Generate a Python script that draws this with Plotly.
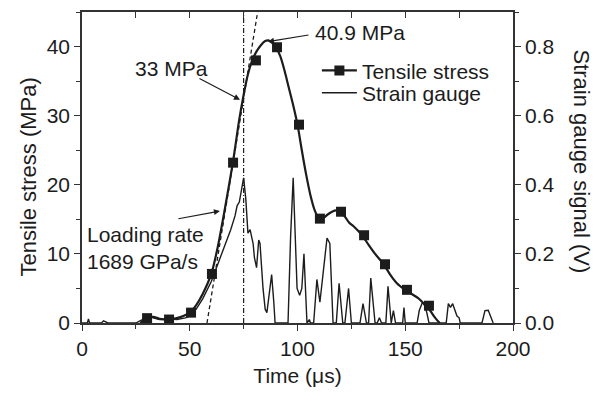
import plotly.graph_objects as go

# ---- Data ----
# Tensile stress, smooth curve (time in us, stress in MPa)
stress_t = [27, 30, 33, 36, 40, 44, 47, 50, 53, 56, 60, 63, 66, 70, 73, 75, 77, 79, 81, 83, 85,
            86.5, 88, 90, 92, 94, 96, 98, 100, 102, 104, 106, 108, 110, 112, 114, 116, 118, 120,
            122, 124, 126, 128, 130, 133, 136, 140, 143, 146, 150, 153, 156, 158, 160, 162, 164, 166]
stress_v = [0, 0.7, 0.9, 0.6, 0.5, 0.7, 1.0, 1.5, 2.6, 4.2, 7.1, 11, 16, 23.2, 29.5, 33, 36, 38, 39.3,
            40.2, 40.8, 40.9, 40.6, 39.9, 38.6, 36.5, 34, 31.5, 28.7, 25, 21.5, 18.5, 16.3, 15.1, 15.2,
            15.7, 16.1, 16.3, 16.1, 15.4, 14.5, 14.0, 13.4, 12.7, 11.3, 10.0, 8.5, 7.0, 5.8, 4.8, 4.2,
            3.6, 3.0, 2.5, 1.6, 0.7, 0]
# Tensile stress symbols
marker_t = [30.2, 40.4, 50.6, 60.3, 70.1, 80.7, 90.5, 100.7, 110.4, 120.2, 130.9, 140.6, 150.8, 161]
marker_v = [0.7, 0.5, 1.5, 7.1, 23.2, 38.0, 39.9, 28.7, 15.1, 16.1, 12.7, 8.5, 4.8, 2.5]

# Strain gauge signal (time in us, signal in V)
gauge_t = [0, 2.5, 3, 3.5, 9, 10, 11, 12, 25, 28, 30, 33, 36, 40, 44, 48, 50, 53, 56, 60, 63, 66, 69,
           71, 72, 73, 74, 75, 76, 77, 78, 79.4, 80, 81, 82, 82.6, 84, 85, 85.8, 88, 89, 89.6, 95.6,
           96.8, 98, 99, 99.8, 101, 102, 103, 104.4, 105.5, 106, 107.5, 109, 110.4, 112, 113.7, 115,
           116.5, 118, 119.3, 121, 122, 123.7, 125, 129, 130.4, 132, 133, 134, 136, 137, 138, 139,
           141, 142, 143.5, 144.5, 145.5, 148.8, 149.4, 150, 155.5, 156.5, 158, 159, 160, 161, 169,
           170, 171, 172, 173, 174, 175, 175.5, 185.6, 187, 188.5, 189.6, 190.8]
gauge_v = [0, 0, 0.012, 0, 0, 0.006, 0.003, 0, 0, 0.01, 0.02, 0.015, 0.01, 0.012, 0.01, 0.015, 0.02,
           0.04, 0.07, 0.12, 0.17, 0.22, 0.27, 0.31, 0.34, 0.35, 0.39, 0.42, 0.36, 0.26, 0.27, 0.23,
           0.19, 0.16, 0.24, 0.23, 0.1, 0.04, 0.03, 0.14, 0.06, 0, 0, 0.25, 0.42, 0.25, 0.1, 0.08,
           0.1, 0.2, 0, 0.01, 0, 0, 0.126, 0.06, 0.15, 0.246, 0.23, 0, 0, 0.115, 0, 0, 0.1, 0, 0,
           0.056, 0, 0, 0.13, 0, 0, 0.015, 0, 0, 0.106, 0, 0.036, 0, 0, 0.045, 0, 0, 0.036, 0.06,
           0.05, 0.03, 0, 0, 0.056, 0.045, 0.056, 0.036, 0.02, 0.015, 0, 0, 0.036, 0.037, 0.02, 0]

# Loading-rate tangent line and peak time marker
tangent_t = [58, 81.5]
tangent_v = [0, 45]
vline_t = [75, 75]
vline_v = [0, 45]

x_ticks = [0, 50, 100, 150, 200]
y_ticks = [0, 10, 20, 30, 40]
y2_ticks = [0.0, 0.2, 0.4, 0.6, 0.8]
y2_labels = ["0.0", "0.2", "0.4", "0.6", "0.8"]

INK = "#1c1c1c"
FONT = "Liberation Sans, Arial, sans-serif"
FS = 21
FT = 22

fig = go.Figure()

fig.add_trace(go.Scatter(x=tangent_t, y=tangent_v, mode="lines",
                         line=dict(color=INK, width=1.3, dash="4px,3px"),
                         showlegend=False, hoverinfo="skip"))
fig.add_trace(go.Scatter(x=vline_t, y=vline_v, mode="lines",
                         line=dict(color=INK, width=1.2, dash="5px,2px,1px,2px"),
                         showlegend=False, hoverinfo="skip"))

fig.add_trace(go.Scatter(x=gauge_t, y=gauge_v, mode="lines", yaxis="y2",
                         line=dict(color=INK, width=1.4),
                         showlegend=False))
fig.add_trace(go.Scatter(x=stress_t, y=stress_v, mode="lines",
                         line=dict(color=INK, width=2.2, shape="spline", smoothing=0.8),
                         showlegend=False))
fig.add_trace(go.Scatter(x=marker_t, y=marker_v, mode="markers",
                         marker=dict(symbol="square", size=10, color=INK),
                         showlegend=False))

# legend entries
fig.add_trace(go.Scatter(x=[None], y=[None], mode="lines+markers", name="Tensile stress",
                         line=dict(color=INK, width=2.2), legend="legend",
                         marker=dict(symbol="square", size=10, color=INK)))
fig.add_trace(go.Scatter(x=[None], y=[None], mode="lines", name="Strain gauge",
                         legend="legend2", line=dict(color=INK, width=1.4)))

# invisible trace for the top axis
fig.add_trace(go.Scatter(x=[0, 200], y=[None, None], xaxis="x2", mode="lines",
                         showlegend=False, hoverinfo="skip"))

axis_common = dict(showgrid=False, zeroline=False, showline=True, linecolor="#333333",
                   linewidth=1.5, tickcolor="#333333", tickwidth=1.3,
                   tickfont=dict(family=FONT, size=FS, color=INK))

leg_common = dict(xanchor="left", yanchor="top", bgcolor="rgba(0,0,0,0)",
                  font=dict(family=FONT, size=FS, color=INK), itemwidth=35)

fig.update_layout(
    width=595, height=396,
    margin=dict(l=82, r=82, t=12, b=63),
    paper_bgcolor="white", plot_bgcolor="white",
    font=dict(family=FONT, size=FS, color=INK),
    xaxis=dict(range=[0, 200], tickvals=x_ticks, ticks="outside", ticklen=6,
               minor=dict(dtick=25, ticks="outside", ticklen=4, tickcolor="#333333"),
               title=dict(text="Time (\u03bcs)", font=dict(family=FONT, size=FS, color=INK),
                          standoff=9),
               **axis_common),
    xaxis2=dict(range=[0, 200], overlaying="x", side="top", anchor="y", dtick=25,
                ticks="inside", ticklen=6, showticklabels=False, **axis_common),
    yaxis=dict(range=[0, 45], tickvals=y_ticks, ticks="outside", ticklen=6,
               minor=dict(dtick=5, ticks="outside", ticklen=4, tickcolor="#333333"),
               **axis_common),
    yaxis2=dict(range=[0, 0.9], overlaying="y", side="right", anchor="x",
                tickvals=y2_ticks, ticktext=y2_labels, ticks="outside", ticklen=6,
                minor=dict(dtick=0.1, ticks="outside", ticklen=4, tickcolor="#333333"),
                **axis_common),
    legend=dict(x=0.545, y=0.877, **leg_common),
    legend2=dict(x=0.545, y=0.805, **leg_common),
    showlegend=True,
)

arrow = dict(showarrow=True, arrowhead=2, arrowsize=1, arrowwidth=1.2, arrowcolor=INK,
             text="", xref="x", yref="y", axref="pixel", ayref="pixel")
annos = [
    dict(x=86.3, y=40.7, ax=42, ay=-7, **arrow),
    dict(x=73.3, y=32.3, ax=-42, ay=-22, **arrow),
    dict(x=64.0, y=16.2, ax=-43, ay=8, **arrow),
    dict(x=107.2, y=42.0, text="40.9 MPa", showarrow=False, xanchor="left", yanchor="middle",
         xref="x", yref="y", font=dict(family=FONT, size=FS, color=INK)),
    dict(x=41.3, y=36.8, text="33 MPa", showarrow=False, xanchor="center", yanchor="middle",
         xref="x", yref="y", font=dict(family=FONT, size=FS, color=INK)),
    dict(x=1.5, y=10.9, text="Loading rate<br>1689 GPa/s", showarrow=False, xanchor="left",
         yanchor="middle", align="left", xref="x", yref="y",
         font=dict(family=FONT, size=FS, color=INK)),
    dict(x=0.0, y=0.5, xref="paper", yref="paper", xshift=-54, yshift=-10,
         text="Tensile stress (MPa)", textangle=-90, showarrow=False,
         xanchor="center", yanchor="middle", font=dict(family=FONT, size=FT, color=INK)),
    dict(x=1.0, y=0.5, xref="paper", yref="paper", xshift=68, yshift=6,
         text="Strain gauge signal (V)", textangle=90, showarrow=False,
         xanchor="center", yanchor="middle", font=dict(family=FONT, size=FT, color=INK)),
]
fig.update_layout(annotations=annos)

fig.write_html("out.html")
